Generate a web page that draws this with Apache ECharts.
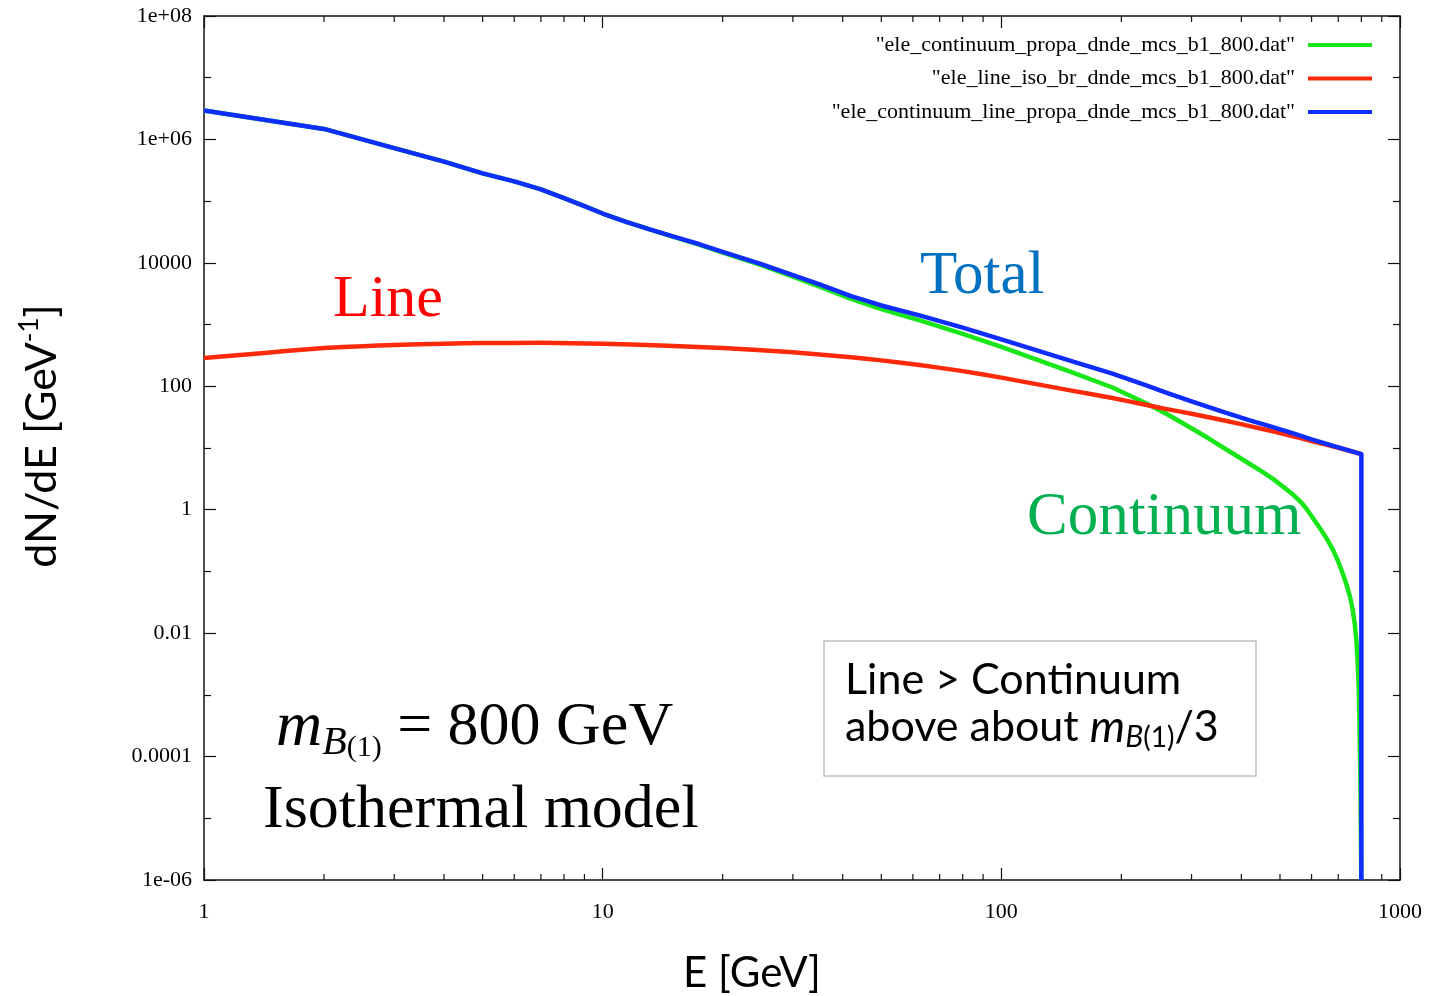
<!DOCTYPE html>
<html><head><meta charset="utf-8">
<script src="https://cdn.jsdelivr.net/npm/echarts@6/dist/echarts.min.js"></script>
<style>html,body{margin:0;padding:0;background:#fff}#c{width:1429px;height:996px}</style>
</head><body><div id="c"></div>
<script>
// ---- data ----
const seriesNames = [
  '"ele_continuum_propa_dnde_mcs_b1_800.dat"',
  '"ele_line_iso_br_dnde_mcs_b1_800.dat"',
  '"ele_continuum_line_propa_dnde_mcs_b1_800.dat"'
];
const continuumE = [1, 2, 3, 4, 5, 6, 7, 8, 9, 10, 11.5, 13, 15, 17.5, 20, 25, 30, 35, 42, 50, 63, 80, 100, 150, 190, 230, 260, 300, 330, 360, 390, 420, 450, 480, 510, 540, 565, 585, 610, 630, 655, 680, 700, 720, 735, 750, 760, 770, 778, 783, 788, 791, 794, 796, 798, 799.5];
const continuumV = [2.95e6, 1.48e6, 7.24e5, 4.37e5, 2.82e5, 2.09e5, 1.55e5, 1.12e5, 8.3e4, 6.3e4, 4.57e4, 3.55e4, 2.66e4, 1.96e4, 1.47e4, 9.2e3, 5.96e3, 4.1e3, 2.6e3, 1.78e3, 1.15e3, 709, 437, 170, 95.5, 53.7, 35.5, 20.9, 14.5, 10.2, 7.41, 5.50, 4.17, 3.16, 2.34, 1.74, 1.32, 1.0, 0.676, 0.5, 0.339, 0.219, 0.145, 0.089, 0.060, 0.038, 0.025, 0.0141, 7.1e-3, 3.5e-3, 1.26e-3, 4.0e-4, 1.0e-4, 2.5e-5, 5e-6, 1e-6];
const lineE = [1, 1.3, 1.6, 2, 2.5, 3, 4, 5, 7, 10, 14, 20, 30, 42, 50, 63, 80, 100, 150, 190, 230, 260, 300, 360, 420, 480, 540, 600, 700, 800];
const lineV = [288, 331, 372, 417, 447, 468, 490, 501, 507, 490, 457, 417, 355, 295, 263, 219, 176, 138, 85.1, 64.6, 50.1, 42.7, 35.9, 28.2, 22.6, 18.6, 15.5, 13.0, 10.1, 7.94];
const totalE = [1, 2, 3, 4, 5, 6, 7, 8, 9, 10, 11.5, 13, 15, 17.5, 20, 25, 30, 35, 42, 50, 63, 80, 100, 150, 190, 230, 260, 300, 360, 420, 480, 540, 600, 700, 800, 800];
const totalV = [2.95e6, 1.48e6, 7.24e5, 4.37e5, 2.82e5, 2.09e5, 1.55e5, 1.12e5, 8.3e4, 6.3e4, 4.57e4, 3.55e4, 2.69e4, 2.0e4, 1.51e4, 9.55e3, 6.31e3, 4.47e3, 2.88e3, 2.04e3, 1.38e3, 891, 575, 255, 160, 104, 78, 56.8, 38.4, 28.1, 21.8, 17.2, 13.8, 10.25, 7.94, 1e-6];

const xTickValues = [1, 10, 100, 1000];
const xTickLabels = ['1', '10', '100', '1000'];
const xMinorTicks = [2,3,4,5,6,7,8,9,20,30,40,50,60,70,80,90,200,300,400,500,600,700,800,900];
const yTickExps = [-6, -4, -2, 0, 2, 4, 6, 8];
const yTickLabels = ['1e-06', '0.0001', '0.01', '1', '100', '10000', '1e+06', '1e+08'];

const colors = ['#19e619', '#ff2a0a', '#0f2dff'];

// ---- build ----
const yMin = -6, yMax = 8;
const toPairs = (E, V) => E.map((e, i) => [e, Math.log10(V[i])]);

const chart = echarts.init(document.getElementById('c'), null, {renderer: 'canvas'});
const serif = 'Liberation Serif';
const sans = 'Lato';

const axisCommonX = {
  type: 'log', logBase: 10, min: 1, max: 1000, gridIndex: 0,
  axisLine: {show: true, onZero: false, lineStyle: {color: '#111', width: 1.5}},
  axisTick: {show: true, inside: true, length: 12, lineStyle: {color: '#111', width: 1.2}},
  splitLine: {show: false}, minorSplitLine: {show: false}
};
const axisCommonY = {
  type: 'value', min: yMin, max: yMax, interval: 2, gridIndex: 0,
  axisLine: {show: true, onZero: false, lineStyle: {color: '#111', width: 1.5}},
  axisTick: {show: true, inside: true, length: 12, lineStyle: {color: '#111', width: 1.2}},
  minorTick: {show: true, splitNumber: 2, length: 7, lineStyle: {color: '#111', width: 1.2}},
  splitLine: {show: false}, minorSplitLine: {show: false}
};

const option = {
  animation: false,
  backgroundColor: '#fff',
  grid: {left: 204, right: 29, top: 16, bottom: 116, containLabel: false},
  xAxis: [
    Object.assign({}, axisCommonX, {
      position: 'bottom',
      axisLabel: {show: true, margin: 21, fontFamily: serif, fontSize: 22, color: '#000',
        showMinLabel: true, showMaxLabel: true,
        formatter: v => { const i = xTickValues.indexOf(Math.pow(10, Math.round(Math.log10(v)))); return i >= 0 ? xTickLabels[i] : ''; }}
    }),
    Object.assign({}, axisCommonX, {position: 'top', axisLabel: {show: false}})
  ],
  yAxis: [
    Object.assign({}, axisCommonY, {
      position: 'left',
      axisLabel: {show: true, margin: 12, fontFamily: serif, fontSize: 22, color: '#000',
        showMinLabel: true, showMaxLabel: true,
        formatter: v => { const i = yTickExps.indexOf(Math.round(v)); return i >= 0 ? yTickLabels[i] : ''; }}
    }),
    Object.assign({}, axisCommonY, {position: 'right', axisLabel: {show: false}})
  ],
  legend: {
    data: seriesNames,
    orient: 'vertical', right: 52, top: 29, align: 'right',
    itemWidth: 64, itemHeight: 4, itemGap: 11.5, icon: 'rect',
    selectedMode: false,
    textStyle: {fontFamily: serif, fontSize: 22, lineHeight: 22, color: '#000', padding: [0, 8, 0, 0]}
  },
  series: [
    {name: seriesNames[0], type: 'line', data: toPairs(continuumE, continuumV), showSymbol: false, symbol: 'none',
     lineStyle: {color: colors[0], width: 4.5, join: 'round'}, itemStyle: {color: colors[0]}, z: 3},
    {name: seriesNames[1], type: 'line', data: toPairs(lineE, lineV), showSymbol: false, symbol: 'none',
     smooth: 0.2,
     lineStyle: {color: colors[1], width: 4.5, join: 'round'}, itemStyle: {color: colors[1]}, z: 4},
    {name: seriesNames[2], type: 'line', data: toPairs(totalE, totalV), showSymbol: false, symbol: 'none',
     lineStyle: {color: colors[2], width: 4.5, join: 'round'}, itemStyle: {color: colors[2]}, z: 5},
    {name: 'xminor', type: 'custom', silent: true, clip: false, z: 2,
     data: xMinorTicks.map(v => [v, yMin]),
     renderItem: (params, api) => {
       const x = api.value(0);
       const b = api.coord([x, yMin]);
       const t = api.coord([x, yMax]);
       const st = {stroke: '#111', lineWidth: 1.2};
       return {type: 'group', children: [
         {type: 'line', shape: {x1: b[0], y1: b[1], x2: b[0], y2: b[1] - 6}, style: st},
         {type: 'line', shape: {x1: t[0], y1: t[1], x2: t[0], y2: t[1] + 6}, style: st}
       ]};
     }}
  ],
  graphic: [
    {type: 'text', x: 42, y: 436, rotation: Math.PI / 2,
     style: {text: '{n|dN/dE [GeV}{s|-1}{n|]}', align: 'center', verticalAlign: 'middle', textAlign: 'center', textVerticalAlign: 'middle',
       rich: {n: {fontFamily: sans, fontSize: 43, lineHeight: 50, fill: '#000', color: '#000'},
              s: {fontFamily: sans, fontSize: 26, lineHeight: 26, verticalAlign: 'top', fill: '#000', color: '#000'}}}},
    {type: 'text', x: 752, y: 973,
     style: {text: 'E [GeV]', font: '42px Lato', fill: '#000', align: 'center', verticalAlign: 'middle', textAlign: 'center', textVerticalAlign: 'middle'}},
    {type: 'text', x: 333, y: 300,
     style: {text: 'Line', font: '60px "Liberation Serif"', fill: '#ff0000', align: 'left', verticalAlign: 'middle', textAlign: 'left', textVerticalAlign: 'middle'}},
    {type: 'text', x: 920, y: 277,
     style: {text: 'Total', font: '61px "Liberation Serif"', fill: '#0070c0', align: 'left', verticalAlign: 'middle', textAlign: 'left', textVerticalAlign: 'middle'}},
    {type: 'text', x: 1027, y: 518,
     style: {text: 'Continuum', font: '61px "Liberation Serif"', fill: '#00b050', align: 'left', verticalAlign: 'middle', textAlign: 'left', textVerticalAlign: 'middle'}},
    {type: 'text', x: 263, y: 811,
     style: {text: 'Isothermal model', font: '62px "Liberation Serif"', fill: '#000', align: 'left', verticalAlign: 'middle', textAlign: 'left', textVerticalAlign: 'middle'}},
    {type: 'text', x: 276, y: 728,
     style: {text: '{m|m}{b|B}{p|(1)}{n| = 800 GeV}', align: 'left', verticalAlign: 'middle', textAlign: 'left', textVerticalAlign: 'middle',
       rich: {m: {fontFamily: serif, fontStyle: 'italic', fontSize: 64, lineHeight: 70, fill: '#000', color: '#000'},
              b: {fontFamily: serif, fontStyle: 'italic', fontSize: 40, lineHeight: 40, verticalAlign: 'bottom', fill: '#000', color: '#000'},
              p: {fontFamily: serif, fontSize: 30, lineHeight: 70, verticalAlign: 'bottom', fill: '#000', color: '#000'},
              n: {fontFamily: serif, fontSize: 62, lineHeight: 70, fill: '#000', color: '#000'}}}},
    {type: 'rect', shape: {x: 824, y: 641, width: 432, height: 135},
     style: {fill: '#fff', stroke: '#bfbfbf', lineWidth: 1.5}, z: 10},
    {type: 'text', x: 845, y: 680, z: 11,
     style: {text: 'Line > Continuum', font: '43px Lato', fill: '#000', align: 'left', verticalAlign: 'middle', textAlign: 'left', textVerticalAlign: 'middle'}},
    {type: 'text', x: 845, y: 727, z: 11,
     style: {text: '{n|above about }{m|m}{b|B}{p|(1)}{n|/3}', align: 'left', verticalAlign: 'middle', textAlign: 'left', textVerticalAlign: 'middle',
       rich: {n: {fontFamily: sans, fontSize: 43, lineHeight: 50, fill: '#000', color: '#000'},
              m: {fontFamily: sans, fontStyle: 'italic', fontSize: 45, lineHeight: 50, fill: '#000', color: '#000'},
              b: {fontFamily: sans, fontStyle: 'italic', fontSize: 30, lineHeight: 28, verticalAlign: 'bottom', fill: '#000', color: '#000'},
              p: {fontFamily: sans, fontSize: 28, lineHeight: 44, verticalAlign: 'bottom', fill: '#000', color: '#000'}}}}
  ]
};
chart.setOption(option);
</script>
</body></html>
